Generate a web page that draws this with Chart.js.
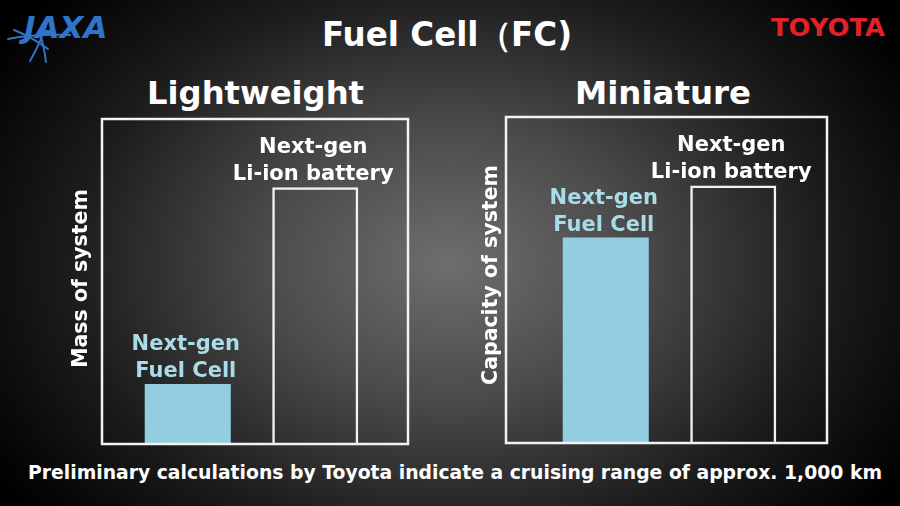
<!DOCTYPE html>
<html lang="en">
<head>
    <meta charset="UTF-8">
    <title>Fuel Cell (FC)</title>
    <script src="https://cdn.jsdelivr.net/npm/chart.js"></script>
    <style>
        html, body {
            margin: 0;
            padding: 0;
        }
        body {
            width: 900px;
            height: 506px;
            overflow: hidden;
            position: relative;
            font-family: "DejaVu Sans", sans-serif;
            font-weight: bold;
            color: #fff;
            background: radial-gradient(ellipse 60% 78% at 50% 52%, #6e6e6e 0%, #4a4a4a 35%, #1c1c1c 70%, #000 100%);
        }
        canvas {
            position: absolute;
            left: 0;
            top: 0;
        }
        .txt {
            position: absolute;
            white-space: nowrap;
            transform-origin: 0 0;
        }
        #title { font-size: 33px; top: 13px; }
        .panel-title { font-size: 32px; top: 74px; }
        #footer { font-size: 19px; top: 461px; }
        #toyota { font-size: 25px; color: #e4202b; top: 13px; left: 771px; }
        #jaxa { position: absolute; left: 4px; top: 4px; }
    </style>
</head>
<body>
    <svg id="jaxa" width="110" height="60" viewBox="0 0 110 60">
        <g fill="none" stroke="#2f74c8" stroke-width="2" stroke-linecap="round">
            <path d="M4 35 Q30 30 66 31"/>
            <path d="M10 26 Q28 33 44 45"/>
            <path d="M26 57 Q36 40 44 16"/>
            <path d="M42 58 Q40 42 36 30"/>
        </g>
        <text x="20" y="34" font-family="DejaVu Sans" font-weight="bold" font-style="italic"
              font-size="31" fill="#2f74c8">JAXA</text>
    </svg>
    <div class="txt" id="toyota">TOYOTA</div>
    <div class="txt" id="title">Fuel Cell（FC)</div>
    <div class="txt panel-title" id="ptLeft"></div>
    <div class="txt panel-title" id="ptRight"></div>
    <div class="txt" id="footer">Preliminary calculations by Toyota indicate a cruising range of approx. 1,000 km</div>

    <canvas id="leftChart" width="900" height="506"></canvas>
    <canvas id="rightChart" width="900" height="506"></canvas>

    <script>
        // chart data
        const panelTitles = ['Lightweight', 'Miniature'];
        const categories = [['Next-gen', 'Fuel Cell'], ['Next-gen', 'Li-ion battery']];
        const axisTitles = ['Mass of system', 'Capacity of system'];
        const massOfSystem = [18.5, 79];
        const capacityOfSystem = [63, 79];
        const valueMax = 100;

        const fcBlue = '#93cee0';
        const fcText = '#a9dce8';
        const lineWhite = '#f2f2f2';

        // place a text block centred on cx, squeezed to a width if given
        function placeText(el, cx, width) {
            const w = el.getBoundingClientRect().width;
            let s = 1;
            if (width) s = width / w;
            el.style.transform = 'scaleX(' + s + ')';
            el.style.left = (cx - (w * s) / 2) + 'px';
        }

        document.getElementById('ptLeft').textContent = panelTitles[0];
        document.getElementById('ptRight').textContent = panelTitles[1];
        placeText(document.getElementById('title'), 447, 250);
        placeText(document.getElementById('ptLeft'), 255, 217);
        placeText(document.getElementById('ptRight'), 663, 176);
        placeText(document.getElementById('footer'), 455, 854);
        placeText(document.getElementById('toyota'), 828, 114);

        function panelPlugin(cfg) {
            return {
                id: 'panelDecor',
                afterDatasetsDraw(chart) {
                    const ctx = chart.ctx;
                    const a = chart.chartArea;
                    ctx.save();

                    // frame around the panel
                    ctx.strokeStyle = lineWhite;
                    ctx.lineWidth = 2.5;
                    ctx.strokeRect(a.left - cfg.frameLeft, a.top, a.right - a.left + cfg.frameLeft + cfg.frameRight, a.bottom - a.top);

                    // labels above bars
                    const meta = chart.getDatasetMeta(0);
                    ctx.font = 'bold 21px "DejaVu Sans"';
                    ctx.textAlign = 'center';
                    ctx.textBaseline = 'alphabetic';
                    meta.data.forEach((bar, i) => {
                        const lines = categories[i];
                        ctx.fillStyle = i === 0 ? fcText : '#ffffff';
                        lines.forEach((ln, j) => {
                            const y = bar.y - 7 - (lines.length - 1 - j) * 27;
                            ctx.fillText(ln, bar.x - 2, y);
                        });
                    });

                    // vertical axis title
                    const tx = a.left - cfg.frameLeft - cfg.titleGap;
                    const ty = (a.top + a.bottom) / 2 + cfg.titleShift;
                    ctx.translate(tx, ty);
                    ctx.rotate(-Math.PI / 2);
                    ctx.font = 'bold 20.5px "DejaVu Sans"';
                    ctx.fillStyle = '#ffffff';
                    ctx.fillText(cfg.axisTitle, 0, 0);
                    ctx.restore();
                }
            };
        }

        function makeChart(id, values, cfg) {
            return new Chart(document.getElementById(id), {
                type: 'bar',
                data: {
                    labels: categories.map(c => c.join(' ')),
                    datasets: [{
                        data: values,
                        backgroundColor: [fcBlue, 'rgba(0,0,0,0)'],
                        borderColor: [fcBlue, lineWhite],
                        borderWidth: [0, 2.5],
                        barPercentage: 0.675,
                        categoryPercentage: 1
                    }]
                },
                options: {
                    responsive: false,
                    animation: false,
                    events: [],
                    layout: { padding: cfg.padding },
                    plugins: {
                        legend: { display: false },
                        tooltip: { enabled: false }
                    },
                    scales: {
                        x: { display: false },
                        y: { display: false, min: 0, max: valueMax }
                    }
                },
                plugins: [panelPlugin(cfg)]
            });
        }

        makeChart('leftChart', massOfSystem, {
            padding: { left: 124, right: 521, top: 119, bottom: 62 },
            frameLeft: 22, frameRight: 29, titleGap: 15, titleShift: -3,
            axisTitle: axisTitles[0]
        });

        makeChart('rightChart', capacityOfSystem, {
            padding: { left: 542, right: 103, top: 117, bottom: 63 },
            frameLeft: 36, frameRight: 30, titleGap: 9, titleShift: -5,
            axisTitle: axisTitles[1]
        });
    </script>
</body>
</html>
